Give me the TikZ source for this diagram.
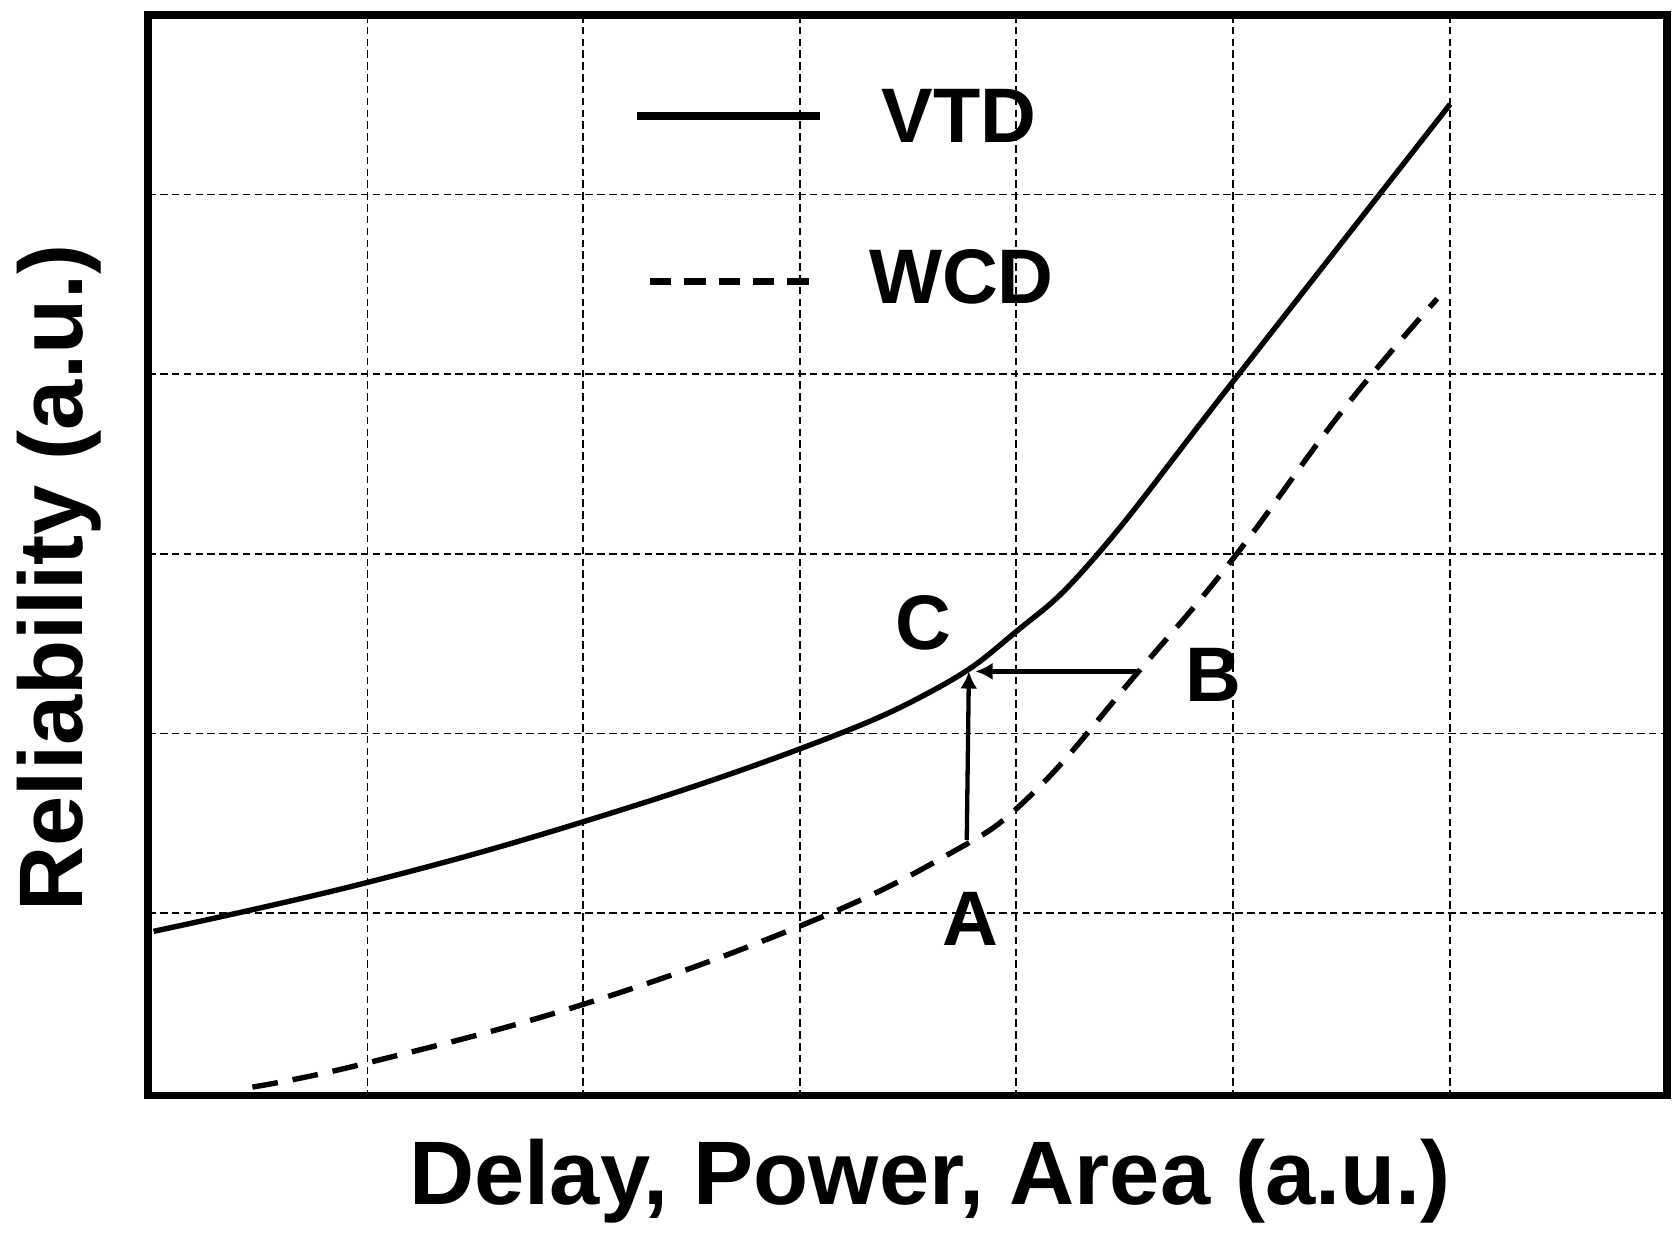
\documentclass[tikz,border=0pt]{standalone}
\usepackage{fontspec}
\setmainfont{Liberation Sans}
\usetikzlibrary{arrows.meta}
\begin{document}
\begin{tikzpicture}[x=1pt,y=-1pt,
  lbl/.style={font=\fontsize{72}{74}\selectfont\bfseries},
  axl/.style={font=\fontsize{84}{86}\selectfont\bfseries},
  grid/.style={line width=1.5pt,dash pattern=on 7pt off 4pt},
  arr/.style={line width=4pt,-{Latex[length=16pt,width=16pt]}}]
\useasboundingbox (0,0) rectangle (1564,1162);
\foreach \x in {342,543,745,946,1148,1350} \draw[grid] (\x,14) -- (\x,1020);
\foreach \y in {181,348,516,683,850} \draw[grid] (138,\y) -- (1552,\y);
\draw[line width=7pt] (138,14) rectangle (1552,1020);
\draw[line width=5pt] plot[smooth,tension=0.7] coordinates {(143,867) (340,822) (543,765) (745,697) (870,642) (946,588) (1020,518) (1148,355) (1350,97)};
\draw[line width=5pt,dash pattern=on 24pt off 14pt] plot[smooth,tension=0.7] coordinates {(235,1012) (340,990) (543,935) (745,862) (880,797) (960,740) (1060,625) (1148,520) (1250,382) (1338,278)};
\draw[line width=7pt] (593,108) -- (763,108);
\draw[line width=7pt,dash pattern=on 20pt off 12pt] (605,262) -- (763,262);
\node[lbl] (vtd) at (893,108) {VTD};
\node[lbl] (wcd) at (895,258) {WCD};
\coordinate (a0) at (900,782); \coordinate (c0) at (902,625); \coordinate (b0) at (1060,625); \coordinate (c1) at (908,625);
\draw[arr] (a0) -- (c0);
\draw[arr] (b0) -- (c1);
\node[lbl] (c) at (860,580) {C};
\node[lbl] (b) at (1130,628) {B};
\node[lbl] (a) at (903,855) {A};
\node[axl,rotate=90] (yl) at (55,538) {Reliability (a.u.)};
\node[axl] (xl) at (866,1100) {Delay, Power, Area (a.u.)};
\end{tikzpicture}
\end{document}
